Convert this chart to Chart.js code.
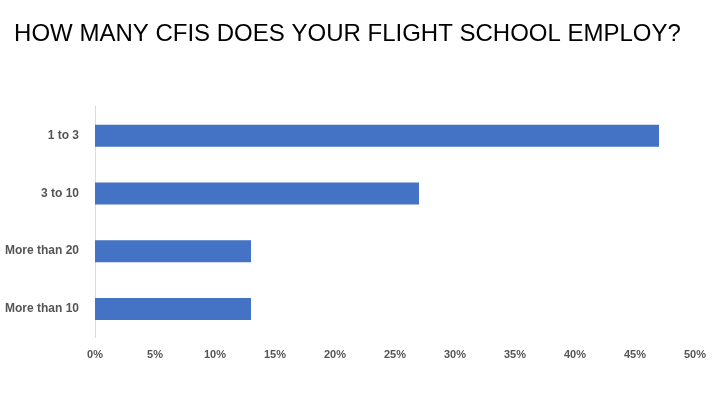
<!DOCTYPE html>
<html>
<head>
<meta charset="utf-8">
<script src="https://cdn.jsdelivr.net/npm/chart.js"></script>
<style>
  body { margin: 0; background: #fff; }
</style>
</head>
<body>
<canvas id="chart" width="720" height="405"></canvas>
<script>
// Chart data
const categories = ["1 to 3", "3 to 10", "More than 20", "More than 10"];
const shares = [47, 27, 13, 13];
const tickValues = [0, 5, 10, 15, 20, 25, 30, 35, 40, 45, 50];

new Chart(document.getElementById("chart"), {
  type: "bar",
  data: {
    labels: categories,
    datasets: [
      {
        data: shares,
        backgroundColor: "#4472c4",
        barPercentage: 0.76,
        categoryPercentage: 0.5,
      },
    ],
  },
  options: {
    indexAxis: "y",
    responsive: false,
    animation: false,
    layout: { padding: { left: 0, right: 25, bottom: 40 } },
    plugins: {
      legend: { display: false },
      tooltip: { enabled: false },
      title: {
        display: true,
        text: "HOW MANY CFIS DOES YOUR FLIGHT SCHOOL EMPLOY?",
        color: "#000",
        font: { family: "Liberation Sans", size: 24, weight: "normal" },
        padding: { top: 20, bottom: 58 },
      },
    },
    scales: {
      x: {
        min: 0,
        max: 50,
        afterBuildTicks: (axis) => {
          axis.ticks = tickValues.map((v) => ({ value: v }));
        },
        grid: { display: false },
        border: { display: false },
        ticks: {
          autoSkip: false,
          color: "#555",
          font: { family: "Liberation Sans", size: 11, weight: "bold" },
          callback: (v) => v + "%",
          maxRotation: 0,
        },
      },
      y: {
        afterFit: (axis) => { axis.width = 95; },
        grid: { display: false },
        border: { display: true, color: "#d9d9d9" },
        ticks: {
          color: "#555",
          font: { family: "Liberation Sans", size: 12, weight: "bold" },
          padding: 8,
        },
      },
    },
  },
});
</script>
</body>
</html>
